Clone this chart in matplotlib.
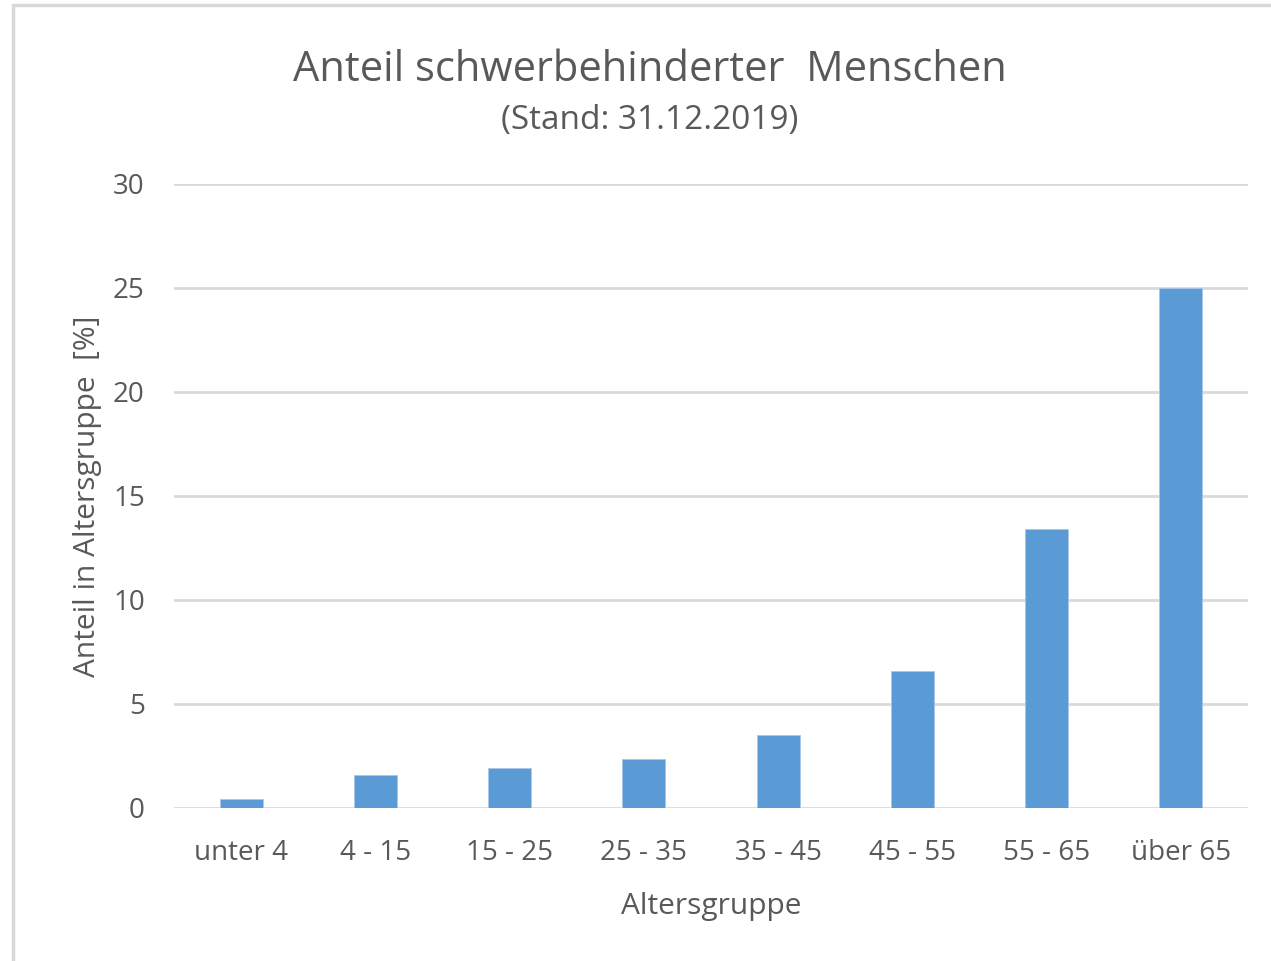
import matplotlib
matplotlib.use("Agg")
import matplotlib.pyplot as plt
from matplotlib.patches import Rectangle

plt.rcParams['font.family'] = ['Open Sans', 'DejaVu Sans']

categories = ["unter 4", "4 - 15", "15 - 25", "25 - 35", "35 - 45", "45 - 55", "55 - 65", "über 65"]
shares = [0.45, 1.6, 1.9, 2.35, 3.5, 6.6, 13.4, 25.0]
y_ticks = [0, 5, 10, 15, 20, 25, 30]

text_color = "#595959"
grid_color = "#d9d9d9"
bar_color = "#5b9bd5"

fig = plt.figure(figsize=(12.71, 9.61), dpi=100)
ax = fig.add_axes([174 / 1271, 1 - 808 / 961, (1248 - 174) / 1271, (808 - 184) / 961])

# chart frame (cut off at right and bottom like the screenshot)
fig.patches.append(Rectangle((13 / 1271, -0.1), 1.2, 1.1 - 5 / 961, transform=fig.transFigure,
                             fill=False, edgecolor="#d9d9d9", linewidth=2.5))

x = range(len(categories))
ax.bar(x, shares, width=0.32, color=bar_color, edgecolor="#a9c8ea", linewidth=0.6, zorder=3)

ax.set_xlim(-0.5, len(categories) - 0.5)
ax.set_ylim(0, 30)
ax.set_yticks(y_ticks)
ax.set_xticks(list(x))
ax.set_xticklabels(categories)
ax.grid(axis="y", color=grid_color, linewidth=2, zorder=0)
for s in ax.spines.values():
    s.set_visible(False)
ax.tick_params(axis="both", length=0, labelsize=20, labelcolor=text_color)
ax.tick_params(axis="y", pad=21)
ax.tick_params(axis="x", pad=22)

ax.set_xlabel("Altersgruppe", fontsize=21.5, color=text_color, labelpad=18)
ax.set_ylabel("Anteil in Altersgruppe  [%]", fontsize=21.5, color=text_color, labelpad=8)

fig.text(650 / 1271, 1 - 70 / 961, "Anteil schwerbehinderter  Menschen", ha="center", va="center",
         fontsize=30, color=text_color)
fig.text(650 / 1271, 1 - 121 / 961, "(Stand: 31.12.2019)", ha="center", va="center",
         fontsize=24, color=text_color)

fig.savefig("out.png", dpi=100, facecolor="white")
